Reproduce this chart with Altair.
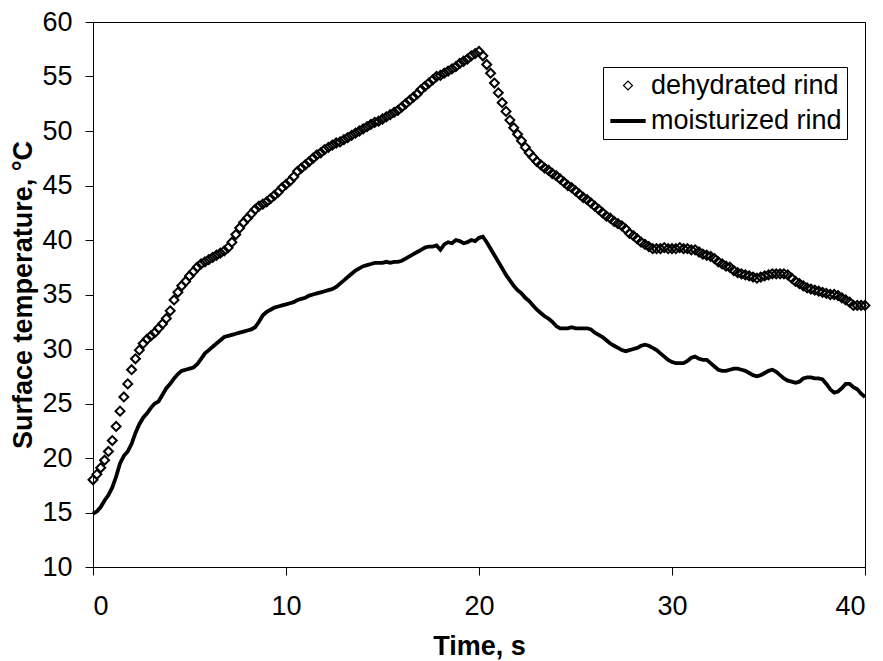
import altair as alt
import numpy as np
import pandas as pd

# sampling grid of the recorded series (s)
time_s = np.round(np.arange(0, 40.001, 0.2), 1)

dehydrated = [
    18.0, 18.5, 19.1, 19.8, 20.6, 21.6, 22.9, 24.3, 25.6, 26.8,
    28.1, 29.1, 29.9, 30.5, 30.9, 31.2, 31.5, 31.9, 32.3, 32.8,
    33.5, 34.5, 35.2, 35.8, 36.2, 36.7, 37.1, 37.5, 37.8, 38.0,
    38.2, 38.4, 38.6, 38.8, 39.0, 39.3, 39.8, 40.5, 41.1, 41.6,
    42.0, 42.4, 42.8, 43.1, 43.3, 43.5, 43.8, 44.1, 44.4, 44.8,
    45.1, 45.4, 45.8, 46.3, 46.6, 46.9, 47.2, 47.5, 47.8, 48.0,
    48.3, 48.5, 48.7, 48.9, 49.0, 49.2, 49.4, 49.6, 49.8, 50.0,
    50.2, 50.4, 50.6, 50.8, 50.9, 51.1, 51.3, 51.5, 51.7, 51.9,
    52.2, 52.5, 52.8, 53.1, 53.4, 53.8, 54.1, 54.4, 54.7, 55.0,
    55.1, 55.3, 55.5, 55.7, 55.9, 56.2, 56.4, 56.6, 56.9, 57.1,
    57.3, 56.9, 56.1, 55.3, 54.4, 53.5, 52.6, 51.8, 51.0, 50.3,
    49.7, 49.1, 48.5, 48.0, 47.6, 47.2, 46.9, 46.6, 46.4, 46.1,
    45.9, 45.6, 45.3, 45.0, 44.8, 44.5, 44.2, 43.9, 43.7, 43.4,
    43.1, 42.8, 42.5, 42.2, 42.0, 41.7, 41.5, 41.3, 41.0, 40.6,
    40.4, 40.1, 39.8, 39.6, 39.4, 39.2, 39.2, 39.2, 39.3, 39.2,
    39.2, 39.2, 39.3, 39.2, 39.2, 39.1, 39.1, 38.9, 38.7, 38.6,
    38.5, 38.3, 38.0, 37.8, 37.6, 37.5, 37.2, 37.0, 36.9, 36.8,
    36.7, 36.6, 36.5, 36.6, 36.7, 36.8, 36.9, 36.9, 36.9, 36.9,
    36.8, 36.5, 36.2, 36.0, 35.8, 35.6, 35.5, 35.4, 35.3, 35.2,
    35.1, 35.0, 35.0, 34.9, 34.7, 34.5, 34.3, 34.0, 34.0, 34.0,
    34.0,
]

moisturized = [
    14.9, 15.1, 15.5, 16.1, 16.6, 17.3, 18.3, 19.5, 20.2, 20.6,
    21.3, 22.3, 23.1, 23.7, 24.1, 24.6, 25.0, 25.2, 25.8, 26.4,
    26.8, 27.3, 27.7, 28.0, 28.1, 28.2, 28.3, 28.6, 29.1, 29.6,
    29.9, 30.2, 30.5, 30.8, 31.1, 31.2, 31.3, 31.4, 31.5, 31.6,
    31.7, 31.8, 32.0, 32.5, 33.1, 33.4, 33.6, 33.8, 33.9, 34.0,
    34.1, 34.2, 34.3, 34.5, 34.6, 34.7, 34.9, 35.0, 35.1, 35.2,
    35.3, 35.4, 35.5, 35.7, 36.0, 36.3, 36.6, 36.9, 37.2, 37.4,
    37.6, 37.7, 37.8, 37.9, 37.9, 37.9, 38.0, 37.9, 38.0, 38.0,
    38.1, 38.3, 38.5, 38.7, 38.9, 39.1, 39.3, 39.4, 39.4, 39.5,
    39.1, 39.6, 39.8, 39.7, 40.0, 39.9, 39.7, 39.8, 40.0, 39.9,
    40.2, 40.3, 39.8, 39.2, 38.6, 38.0, 37.4, 36.8, 36.3, 35.8,
    35.4, 35.1, 34.7, 34.4, 34.0, 33.6, 33.3, 33.0, 32.8, 32.5,
    32.1, 31.9, 31.9, 31.9, 32.0, 31.9, 31.9, 31.9, 31.9, 31.8,
    31.5, 31.3, 31.1, 30.8, 30.5, 30.3, 30.1, 29.9, 29.8, 29.9,
    30.0, 30.1, 30.3, 30.4, 30.3, 30.1, 29.9, 29.6, 29.3, 29.0,
    28.8, 28.7, 28.7, 28.7, 28.9, 29.2, 29.3, 29.1, 29.0, 29.0,
    28.7, 28.4, 28.1, 28.0, 28.0, 28.1, 28.2, 28.2, 28.1, 28.0,
    27.8, 27.6, 27.5, 27.6, 27.8, 28.0, 28.1, 27.9, 27.6, 27.3,
    27.1, 27.0, 26.9, 27.0, 27.3, 27.4, 27.4, 27.3, 27.3, 27.2,
    26.8, 26.3, 26.0, 26.1, 26.4, 26.8, 26.8, 26.5, 26.3, 25.9,
    25.6,
]

series_names = ["dehydrated rind", "moisturized rind"]
x_ticks = [0, 10, 20, 30, 40]
y_ticks = [10, 15, 20, 25, 30, 35, 40, 45, 50, 55, 60]

df_d = pd.DataFrame({"t": time_s, "temp": dehydrated, "series": series_names[0]})
df_m = pd.DataFrame({"t": time_s, "temp": moisturized, "series": series_names[1]})

FONT = "Liberation Sans"

x_enc = alt.X(
    "t:Q",
    scale=alt.Scale(domain=[0, 40], nice=False),
    axis=alt.Axis(values=x_ticks, title="Time, s", labelPadding=18, titlePadding=14),
)
y_enc = alt.Y(
    "temp:Q",
    scale=alt.Scale(domain=[10, 60], nice=False, zero=False),
    axis=alt.Axis(values=y_ticks, title="Surface temperature, °C", labelPadding=13, titlePadding=4),
)

legend = alt.Legend(
    title=None,
    orient="none",
    legendX=510,
    legendY=45,
    strokeColor="black",
    fillColor="white",
    padding=5,
    labelFont=FONT,
    labelFontSize=27,
    labelColor="black",
    labelLimit=400,
    labelOffset=3,
    rowPadding=2,
    symbolStrokeColor="black",
)

shape_scale = alt.Scale(domain=series_names, range=["diamond", "stroke"])
size_scale = alt.Scale(domain=series_names, range=[80, 1250])
sw_scale = alt.Scale(domain=series_names, range=[1.2, 3.8])

points = alt.Chart(df_d).mark_point(
    filled=False, color="black", opacity=1, strokeWidth=2.0
).encode(
    x=x_enc,
    y=y_enc,
    shape=alt.Shape("series:N", scale=shape_scale, legend=legend),
    size=alt.Size("series:N", scale=size_scale, legend=legend),
)

line = alt.Chart(df_m).mark_line(color="black").encode(
    x=x_enc,
    y=y_enc,
    strokeWidth=alt.StrokeWidth("series:N", scale=sw_scale, legend=legend),
)

chart = (
    alt.layer(points, line)
    .properties(
        width=772,
        height=545,
        autosize=alt.AutoSizeParams(type="none"),
        padding={"left": 93, "top": 22, "right": 18, "bottom": 94},
        background="white",
    )
    .configure_view(stroke="black", strokeWidth=1)
    .configure_axis(
        grid=False,
        domainColor="black",
        tickColor="black",
        labelColor="black",
        titleColor="black",
        labelFont=FONT,
        titleFont=FONT,
        labelFontSize=27,
        titleFontSize=27,
        titleFontWeight="bold",
        tickSize=8,
    )
)

chart.save("out.html", embed_options={"renderer": "svg", "actions": False})
